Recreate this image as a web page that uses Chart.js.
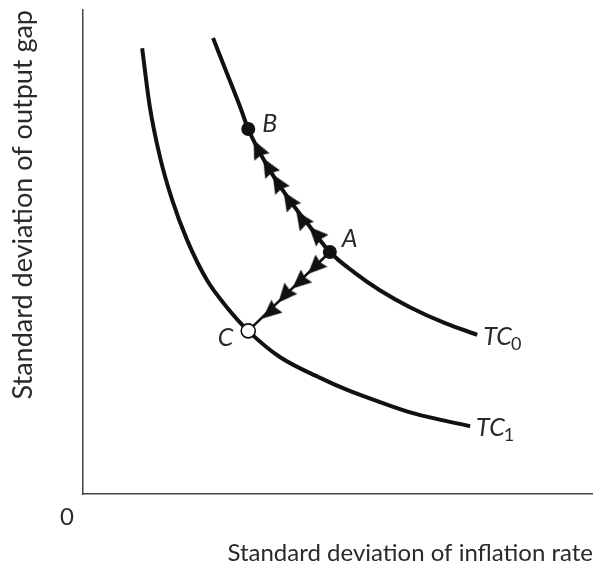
<!DOCTYPE html>
<html><head><meta charset="utf-8">
<script src="https://cdn.jsdelivr.net/npm/chart.js@4/dist/chart.umd.min.js"></script>
<style>html,body{margin:0;padding:0;background:#fff}</style>
</head><body>
<canvas id="c" width="593" height="571"></canvas>
<script>
// ---- data ----
const tc0X = [25.5, 28.2, 30.8, 32.4, 35.9, 40.2, 44.5, 48.4, 53.3, 58.2, 64.1, 71.0, 77.3];
const tc0Y = [94.2, 87.0, 80.0, 75.4, 68.2, 61.2, 55.2, 50.0, 45.7, 42.1, 38.6, 35.3, 32.9];
const tc1X = [11.6, 13.1, 15.1, 17.5, 20.4, 24.3, 28.2, 32.4, 38.6, 46.5, 51.8, 58.2, 64.7, 75.9];
const tc1Y = [92.1, 80.0, 69.6, 60.7, 52.5, 44.2, 38.6, 33.7, 28.3, 24.0, 21.5, 19.0, 16.7, 14.0];
const curveNames = ['TC', 'TC'];
const curveSubs = ['0', '1'];
const pointNames = ['A', 'B', 'C'];
const pointX = [48.4, 32.4, 32.4];
const pointY = [50.0, 75.4, 33.7];
// arrowheads from A toward B (along TC0) and from A toward C
const arrowABX = [45.7, 42.9, 40.4, 38.2, 36.3, 34.3];
const arrowABY = [53.7, 56.8, 60.7, 64.3, 67.6, 71.3];
const arrowACX = [45.5, 42.5, 39.6, 36.7];
const arrowACY = [46.9, 43.8, 41.1, 37.6];
const xTitle = 'Standard deviation of inflation rate';
const yTitle = 'Standard deviation of output gap';
const originLabel = '0';

const pts = (xs, ys) => xs.map((v, i) => ({x: v, y: ys[i]}));
const ptA = {x: pointX[0], y: pointY[0]};
const ptB = {x: pointX[1], y: pointY[1]};
const ptC = {x: pointX[2], y: pointY[2]};

const FONT = 'Lato';
const INK = '#111';
const TEXT = '#2a2a2a';

// solid arrowhead with a slight notch, pointing up; rotated per point by Chart.js
const arrowImg = (() => {
  const c = document.createElement('canvas');
  c.width = 30; c.height = 30;
  const g = c.getContext('2d');
  g.fillStyle = INK;
  g.beginPath();
  g.moveTo(15, 5);
  g.lineTo(23.5, 24);
  g.lineTo(15, 22);
  g.lineTo(6.5, 24);
  g.closePath();
  g.fill();
  return c;
})();

function arrowRotation(target) {
  return (ctx) => {
    const chart = ctx.chart;
    const sx = chart.scales.x, sy = chart.scales.y;
    const data = ctx.dataset.data;
    const i = ctx.dataIndex;
    if (!sx || !sy || !data[i]) return 0;
    const p = data[i];
    const q = i + 1 < data.length ? data[i + 1] : target;
    const dx = sx.getPixelForValue(q.x) - sx.getPixelForValue(p.x);
    const dy = sy.getPixelForValue(q.y) - sy.getPixelForValue(p.y);
    return Math.atan2(dx, -dy) * 180 / Math.PI;
  };
}

const labelPlugin = {
  id: 'labels',
  afterDatasetsDraw(chart) {
    const {ctx} = chart;
    const sx = chart.scales.x, sy = chart.scales.y;
    ctx.save();
    ctx.fillStyle = TEXT;
    ctx.textBaseline = 'middle';
    const offs = {A: [12, -13, 'left'], B: [14, -5, 'left'], C: [-15, 7, 'right']};
    pointNames.forEach((n, i) => {
      const px = sx.getPixelForValue(pointX[i]);
      const py = sy.getPixelForValue(pointY[i]);
      const o = offs[n];
      ctx.font = 'italic 25px ' + FONT;
      ctx.textAlign = o[2];
      ctx.fillText(n, px + o[0], py + o[1]);
    });
    const ends = [[tc0X[tc0X.length - 1], tc0Y[tc0Y.length - 1]], [tc1X[tc1X.length - 1], tc1Y[tc1Y.length - 1]]];
    ends.forEach((e, i) => {
      const px = sx.getPixelForValue(e[0]) + 6;
      const py = sy.getPixelForValue(e[1]) + 2;
      ctx.textAlign = 'left';
      ctx.font = 'italic 25px ' + FONT;
      ctx.fillText(curveNames[i], px, py);
      const w = ctx.measureText(curveNames[i]).width;
      ctx.font = '18px ' + FONT;
      ctx.fillText(curveSubs[i], px + w - 1, py + 7);
    });
    ctx.restore();
  }
};

new Chart(document.getElementById('c'), {
  type: 'scatter',
  data: {
    datasets: [
      {label: 'A,B', data: [ptA, ptB], order: 1, pointRadius: 7, pointHoverRadius: 7,
       backgroundColor: INK, borderColor: INK, borderWidth: 0, showLine: false},
      {label: 'C', data: [ptC], order: 1, pointRadius: 7, pointHoverRadius: 7,
       backgroundColor: '#fff', borderColor: INK, borderWidth: 1.6, showLine: false},
      {label: 'arrows AB', data: pts(arrowABX, arrowABY), order: 2, pointStyle: arrowImg,
       pointRotation: arrowRotation(ptB), showLine: false},
      {label: 'arrows AC', data: pts(arrowACX, arrowACY), order: 2, pointStyle: arrowImg,
       pointRotation: arrowRotation(ptC), showLine: false},
      {label: 'A to C', data: [ptA, ptC], order: 3, showLine: true, pointRadius: 0,
       borderColor: INK, borderWidth: 2.5},
      {label: 'TC0', data: pts(tc0X, tc0Y), order: 4, showLine: true, pointRadius: 0,
       borderColor: INK, borderWidth: 4, cubicInterpolationMode: 'monotone', borderCapStyle: 'butt'},
      {label: 'TC1', data: pts(tc1X, tc1Y), order: 4, showLine: true, pointRadius: 0,
       borderColor: INK, borderWidth: 4, cubicInterpolationMode: 'monotone', borderCapStyle: 'butt'}
    ]
  },
  options: {
    responsive: false,
    animation: false,
    events: [],
    layout: {autoPadding: false, padding: {top: 10, right: 0, bottom: 0, left: 0}},
    plugins: {legend: {display: false}, tooltip: {enabled: false}},
    scales: {
      x: {
        type: 'linear', min: 0, max: 100,
        grid: {display: false, drawTicks: true, tickLength: 9},
        border: {display: true, color: '#444', width: 1.5},
        afterBuildTicks: (s) => { s.ticks = [{value: 0}]; },
        afterFit: (s) => { s.height = 77; s.paddingLeft = 0; s.paddingRight = 0; },
        ticks: {
          callback: () => originLabel,
          font: {family: FONT, size: 24}, color: TEXT,
          padding: 0, labelOffset: -16, maxRotation: 0, autoSkip: false
        },
        title: {display: true, text: xTitle, align: 'end', color: TEXT,
          font: {family: FONT, size: 24}, padding: {top: 0, bottom: 3}}
      },
      y: {
        type: 'linear', min: 0, max: 100,
        grid: {display: false, drawTicks: false},
        border: {display: true, color: '#444', width: 1.5},
        ticks: {display: false},
        afterFit: (s) => { s.width = 83; s.paddingTop = 0; s.paddingBottom = 0; },
        title: {display: true, text: yTitle, align: 'end', color: TEXT,
          font: {family: FONT, size: 27}, padding: {top: 7, bottom: 0}}
      }
    }
  },
  plugins: [labelPlugin]
});
</script>
</body></html>
